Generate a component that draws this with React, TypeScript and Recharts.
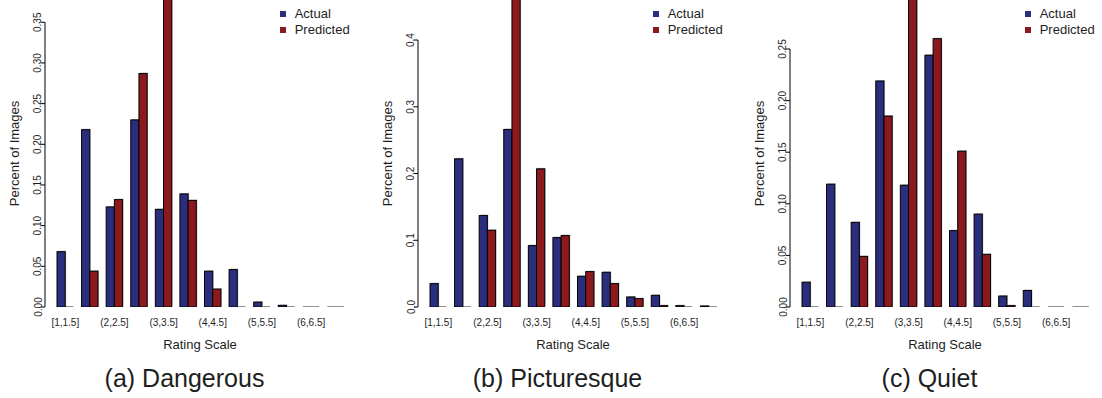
import { BarChart, Bar, XAxis, YAxis, Legend } from "recharts";

// rating bins, every other one gets a tick label
const categories = [
  "[1,1.5]", "(1.5,2]", "(2,2.5]", "(2.5,3]", "(3,3.5]", "(3.5,4]",
  "(4,4.5]", "(4.5,5]", "(5,5.5]", "(5.5,6]", "(6,6.5]", "(6.5,7]",
];

const dangerousActual = [0.068, 0.218, 0.123, 0.230, 0.120, 0.139, 0.044, 0.046, 0.006, 0.002, 0, 0];
const dangerousPredicted = [0, 0.044, 0.132, 0.287, 0.384, 0.131, 0.022, 0, 0, 0, 0, 0];

const picturesqueActual = [0.035, 0.222, 0.137, 0.266, 0.092, 0.104, 0.046, 0.052, 0.015, 0.0175, 0.002, 0.0015];
const picturesquePredicted = [0, 0, 0.115, 0.468, 0.207, 0.107, 0.053, 0.035, 0.0125, 0.002, 0, 0];

const quietActual = [0.024, 0.119, 0.082, 0.219, 0.118, 0.244, 0.074, 0.090, 0.0106, 0.016, 0, 0];
const quietPredicted = [0, 0, 0.049, 0.185, 0.302, 0.26, 0.151, 0.051, 0.0013, 0, 0, 0];

const dangerousTicks = [0, 0.05, 0.1, 0.15, 0.2, 0.25, 0.3, 0.35];
const picturesqueTicks = [0, 0.1, 0.2, 0.3, 0.4];
const quietTicks = [0, 0.05, 0.1, 0.15, 0.2, 0.25];

const ACTUAL = "#2b2d7d";
const PREDICTED = "#8b191d";
const TEXT = "#1e1e1e";
const FONT = '"Liberation Sans", Arial, Helvetica, sans-serif';

const W = 357;
const H = 355;
const AXIS_X = 45;
const PLOT_BOTTOM = 307;

function rows(actual: number[], predicted: number[]) {
  return categories.map((range, i) => ({ range, actual: actual[i], predicted: predicted[i] }));
}

const panels = [
  { caption: "(a) Dangerous", left: 0, data: rows(dangerousActual, dangerousPredicted), ticks: dangerousTicks, yMax: 0.3774, digits: 2 },
  { caption: "(b) Picturesque", left: 373, data: rows(picturesqueActual, picturesquePredicted), ticks: picturesqueTicks, yMax: 0.46, digits: 1 },
  { caption: "(c) Quiet", left: 745, data: rows(quietActual, quietPredicted), ticks: quietTicks, yMax: 0.2975, digits: 2 },
];

// outlined bar with a faint grey edge; empty bins show as a flat line
function BarShape(props: any) {
  const { x, y, width, height, fill } = props;
  if (!(height > 0.5)) {
    const base = y + (height || 0);
    return <line x1={x} x2={x + width} y1={base} y2={base} stroke="#222" strokeWidth={1} />;
  }
  return (
    <g>
      <rect x={x + 1} y={y - 1} width={width} height={height} fill="#bdbdbd" />
      <rect x={x} y={y} width={width} height={height} fill={fill} stroke="#000" strokeWidth={1} />
    </g>
  );
}

function makeYTick(digits: number, top: number) {
  return function YTick(props: any) {
    const { x, y, payload } = props;
    const bx = x + 0.5;
    return (
      <g>
        {payload.value === top && (
          <line x1={AXIS_X} x2={AXIS_X} y1={y} y2={PLOT_BOTTOM} stroke="#000" strokeWidth={1} />
        )}
        <text
          x={bx}
          y={y}
          transform={`rotate(-90 ${bx} ${y})`}
          textAnchor="middle"
          fontSize={10}
          fontFamily={FONT}
          fill={TEXT}
        >
          {Number(payload.value).toFixed(digits)}
        </text>
      </g>
    );
  };
}

function XTick(props: any) {
  const { x, y, payload } = props;
  return (
    <text x={x} y={y} dy={19} textAnchor="middle" fontSize={10} fontFamily={FONT} fill={TEXT}>
      {payload.value}
    </text>
  );
}

function LegendBox(props: any) {
  const items = props.payload || [];
  return (
    <div style={{ fontFamily: FONT, fontSize: 13, lineHeight: "16px", color: TEXT }}>
      {items.map((e: any) => (
        <div key={e.value} style={{ display: "flex", alignItems: "center", height: 16 }}>
          <span style={{ display: "inline-block", width: 6, height: 6, background: e.color, marginRight: 8.7 }} />
          <span>{e.value}</span>
        </div>
      ))}
    </div>
  );
}

function Panel({ p }: { p: (typeof panels)[number] }) {
  const top = p.ticks[p.ticks.length - 1];
  return (
    <div style={{ position: "absolute", left: p.left, top: 0 }}>
      <BarChart
        width={W}
        height={H}
        data={p.data}
        barGap={0}
        margin={{ top: 0, right: 2, bottom: 0, left: 0 }}
      >
        <XAxis
          dataKey="range"
          interval={1}
          axisLine={false}
          tickLine={false}
          tickSize={0}
          tickMargin={0}
          height={48}
          padding={{ left: 8, right: 7 }}
          tick={<XTick />}
          label={{
            content: ({ viewBox }: any) => (
              <text
                x={viewBox.x + viewBox.width / 2}
                y={viewBox.y + 42.3}
                textAnchor="middle"
                fontSize={13}
                fontFamily={FONT}
                fill={TEXT}
              >
                Rating Scale
              </text>
            ),
          }}
        />
        <YAxis
          type="number"
          width={AXIS_X}
          domain={[0, p.yMax]}
          ticks={p.ticks}
          allowDataOverflow
          axisLine={false}
          tickSize={4}
          tickMargin={0}
          tickLine={{ stroke: "#000" }}
          tick={makeYTick(p.digits, top)}
          label={{
            content: ({ viewBox }: any) => {
              const lx = viewBox.x + 18.6;
              const ly = viewBox.y + viewBox.height / 2;
              return (
                <text
                  x={lx}
                  y={ly}
                  transform={`rotate(-90 ${lx} ${ly})`}
                  textAnchor="middle"
                  fontSize={13}
                  fontFamily={FONT}
                  fill={TEXT}
                >
                  Percent of Images
                </text>
              );
            },
          }}
        />
        <Legend
          layout="vertical"
          align="center"
          verticalAlign="middle"
          content={<LegendBox />}
          wrapperStyle={{ top: 6, left: 280, width: 80 }}
        />
        <Bar dataKey="actual" name="Actual" fill={ACTUAL} barSize={8.2} shape={BarShape} isAnimationActive={false} />
        <Bar dataKey="predicted" name="Predicted" fill={PREDICTED} barSize={8.2} shape={BarShape} isAnimationActive={false} />
      </BarChart>
      <div
        style={{
          position: "absolute",
          left: 184.5 - 120,
          top: 365.5,
          width: 240,
          textAlign: "center",
          fontFamily: FONT,
          fontSize: 25,
          lineHeight: "25px",
          color: TEXT,
          whiteSpace: "nowrap",
        }}
      >
        {p.caption}
      </div>
    </div>
  );
}

export default function App() {
  return (
    <div style={{ position: "relative", width: 1102, height: 398, background: "#fff", overflow: "hidden" }}>
      <style>{`body{margin:0;background:#fff}`}</style>
      {panels.map((p) => (
        <Panel key={p.caption} p={p} />
      ))}
    </div>
  );
}
